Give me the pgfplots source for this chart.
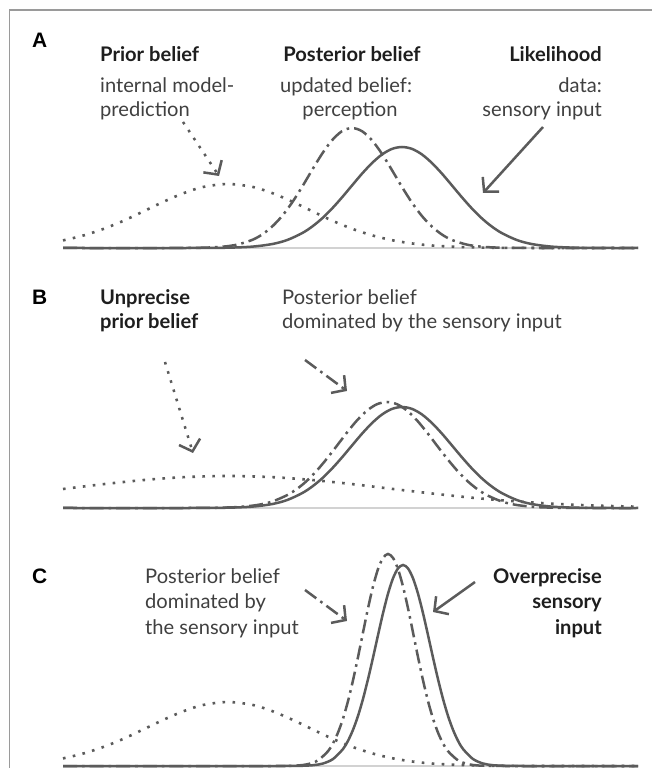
\documentclass[border=0pt]{standalone}
\usepackage{pgfplots}
\pgfplotsset{compat=1.18}
\usepackage{fontspec}
\setmainfont{Lato}
\newfontfamily\arialfont{Liberation Sans}
\usetikzlibrary{arrows.meta}
\definecolor{curve}{HTML}{5B5B5B}
\definecolor{txt}{HTML}{404040}
\definecolor{ttl}{HTML}{1E1E1E}
\definecolor{base}{HTML}{D2D2D2}
\definecolor{frame}{HTML}{9A9A9A}

\pgfplotsset{
  panel/.style={scale only axis, width=575bp, height=250bp,
    xmin=63, xmax=638, ymin=0, ymax=250, hide axis, clip=false, anchor=south west},
  lik/.style={curve, line width=2.5bp, smooth},
  post/.style={curve, line width=2.5bp, smooth, dash pattern=on 14bp off 5bp on 2.6bp off 5bp},
  prior/.style={curve, line width=2.6bp, smooth, dash pattern=on 2.6bp off 7.4bp},
  baseln/.style={base, line width=1.5bp},
}
\tikzset{
  reg/.style={font=\fontsize{20.2}{24}\selectfont, text=txt, inner sep=0pt},
  bld/.style={font=\fontsize{20.2}{24}\selectfont\bfseries, text=ttl, inner sep=0pt},
  lab/.style={font=\fontsize{21}{24}\selectfont\arialfont\bfseries, text=black, inner sep=0pt, anchor=base west},
  arr/.style={curve, line width=2.5bp, -{Straight Barb[length=10bp, width=22bp, line width=2.5bp]}},
}

\begin{document}
\begin{tikzpicture}[x=1bp, y=1bp]
\useasboundingbox (0,0) rectangle (652,768);
\fill[white] (0,0) rectangle (652,768);
\draw[frame, line width=1.2bp] (9.3,-20) -- (9.3,758) -- (700,758);

% ---------------- Panel A ----------------
\begin{axis}[panel, at={(63,520)}]
\addplot[baseln] coordinates {(63,0) (638,0)};
\addplot[prior] coordinates {
(63,7.6) (83,12.4) (103,18.9) (123,27.0) (143,36.4) (163,46.0) (183,54.6) (203,61.0) (228,64)
(253,61.0) (273,54.6) (293,46.0) (313,36.4) (333,27.0) (353,18.9) (373,12.4) (393,7.6)
(413,4.4) (433,2.4) (463,0.86) (503,0.17) (553,0.01) (638,0)};
\addplot[post] coordinates {
(63,0) (172,0) (202,0.27) (222,1.24) (237,3.35) (252,8.0) (262,13.4) (272,21.3) (282,31.9)
(292,45.3) (302,61.0) (312,77.8) (322,94.1) (332,107.7) (342,116.8) (352,120) (362,116.8)
(372,107.7) (382,94.1) (392,77.8) (402,61.0) (412,45.3) (422,31.9) (432,21.3) (442,13.4)
(452,8.0) (467,3.35) (482,1.24) (502,0.27) (532,0) (638,0)};
\addplot[lik] coordinates {
(63,0) (192,0) (227,0.28) (252,1.34) (272,3.9) (287,7.9) (302,14.8) (312,21.3) (322,29.5)
(332,39.4) (342,50.6) (352,62.5) (362,74.3) (372,84.9) (382,93.5) (392,99.1) (402,101)
(412,99.1) (422,93.5) (432,84.9) (442,74.3) (452,62.5) (462,50.6) (472,39.4) (482,29.5)
(492,21.3) (502,14.8) (517,7.9) (532,3.9) (552,1.34) (577,0.28) (612,0) (638,0)};
\end{axis}

% ---------------- Panel B ----------------
\begin{axis}[panel, at={(63,260)}]
\addplot[baseln] coordinates {(63,0) (638,0)};
\addplot[prior] coordinates {
(63,19.0) (103,23.8) (143,27.9) (183,30.8) (228,32) (273,30.8) (313,27.9) (353,23.8)
(393,19.0) (433,14.4) (473,10.2) (513,6.8) (553,4.3) (593,2.5) (638,1.3)};
\addplot[post] coordinates {
(63,0) (187,0) (212,0.16) (237,0.9) (257,2.96) (272,6.4) (287,12.8) (297,19.1) (307,27.3)
(317,37.6) (327,49.5) (337,62.4) (347,75.5) (357,87.6) (367,97.4) (377,103.8) (387,106)
(397,103.8) (407,97.4) (417,87.6) (427,75.5) (437,62.4) (447,49.5) (457,37.6) (467,27.3)
(477,19.1) (487,12.8) (502,6.4) (517,2.96) (537,0.9) (562,0.16) (587,0) (638,0)};
\addplot[lik] coordinates {
(63,0) (192,0) (227,0.28) (252,1.34) (272,3.9) (287,7.9) (302,14.8) (312,21.3) (322,29.5)
(332,39.4) (342,50.6) (352,62.5) (362,74.3) (372,84.9) (382,93.5) (392,99.1) (402,101)
(412,99.1) (422,93.5) (432,84.9) (442,74.3) (452,62.5) (462,50.6) (472,39.4) (482,29.5)
(492,21.3) (502,14.8) (517,7.9) (532,3.9) (552,1.34) (577,0.28) (612,0) (638,0)};
\end{axis}

% ---------------- Panel C ----------------
\begin{axis}[panel, at={(63,2)}]
\addplot[baseln] coordinates {(63,0) (638,0)};
\addplot[prior] coordinates {
(63,7.6) (83,12.4) (103,18.9) (123,27.0) (143,36.4) (163,46.0) (183,54.6) (203,61.0) (228,64)
(253,61.0) (273,54.6) (293,46.0) (313,36.4) (333,27.0) (353,18.9) (373,12.4) (393,7.6)
(413,4.4) (433,2.4) (463,0.86) (503,0.17) (553,0.01) (638,0)};
\addplot[post] coordinates {
(63,0) (268,0) (283,0.06) (298,0.53) (308,1.87) (318,5.66) (328,14.8) (333,22.6) (338,33.4)
(343,47.4) (348,64.9) (353,85.7) (358,108.9) (363,133.5) (368,157.7) (373,179.5) (378,196.9)
(383,208.1) (388,212) (393,208.1) (398,196.9) (403,179.5) (408,157.7) (413,133.5) (418,108.9)
(423,85.7) (428,64.9) (433,47.4) (438,33.4) (443,22.6) (448,14.8) (458,5.66) (468,1.87)
(478,0.53) (493,0.06) (508,0) (638,0)};
\addplot[lik] coordinates {
(63,0) (283,0) (298,0.1) (313,0.78) (323,2.5) (333,6.97) (343,17.0) (348,25.2) (353,36.2)
(358,50.1) (363,67.1) (368,86.8) (373,108.4) (378,130.9) (383,152.8) (388,172.3) (393,187.7)
(398,197.6) (403,201) (408,197.6) (413,187.7) (418,172.3) (423,152.8) (428,130.9) (433,108.4)
(438,86.8) (443,67.1) (448,50.1) (453,36.2) (458,25.2) (463,17.0) (473,6.97) (483,2.5)
(493,0.78) (508,0.1) (523,0) (638,0)};
\end{axis}

% ---------------- Panel labels ----------------
\node[lab] at (32,720) {A};
\node[lab] at (32,463) {B};
\node[lab] at (32,184) {C};

% ---------------- Texts A ----------------
\node[bld, anchor=base west] at (100,706) {Prior belief};
\node[reg, anchor=base west] at (100,675) {internal model-};
\node[reg, anchor=base west] at (100,651) {prediction};
\node[bld, anchor=base] at (352,706) {Posterior belief};
\node[reg, anchor=base] at (346,675) {updated belief:};
\node[reg, anchor=base] at (350,651) {perception};
\node[bld, anchor=base east] at (602,706) {Likelihood};
\node[reg, anchor=base east] at (602,675) {data:};
\node[reg, anchor=base east] at (602,651) {sensory input};

% ---------------- Texts B ----------------
\node[bld, anchor=base west] at (100,463) {Unprecise};
\node[bld, anchor=base west] at (100,439) {prior belief};
\node[reg, anchor=base west] at (282,463) {Posterior belief};
\node[reg, anchor=base west] at (282,439) {dominated by the sensory input};

% ---------------- Texts C ----------------
\node[reg, anchor=base west] at (145,184) {Posterior belief};
\node[reg, anchor=base west] at (145,159) {dominated by};
\node[reg, anchor=base west] at (145,133) {the sensory input};
\node[bld, anchor=base east] at (602,184) {Overprecise};
\node[bld, anchor=base east] at (602,159) {sensory};
\node[bld, anchor=base east] at (602,133) {input};

% ---------------- Arrows ----------------
\draw[arr, dash pattern=on 2.6bp off 7bp] (183,646) -- (219,592);
\draw[arr] (543,641) -- (483,575);
\draw[arr, dash pattern=on 2.6bp off 7bp] (165,406) -- (193,315);
\draw[arr, dash pattern=on 14bp off 5bp on 2.6bp off 5bp] (305,408) -- (347,377);
\draw[arr, dash pattern=on 14bp off 5bp on 2.6bp off 5bp] (305,178) -- (347,147);
\draw[arr] (475,186) -- (433,156);
\end{tikzpicture}
\end{document}
